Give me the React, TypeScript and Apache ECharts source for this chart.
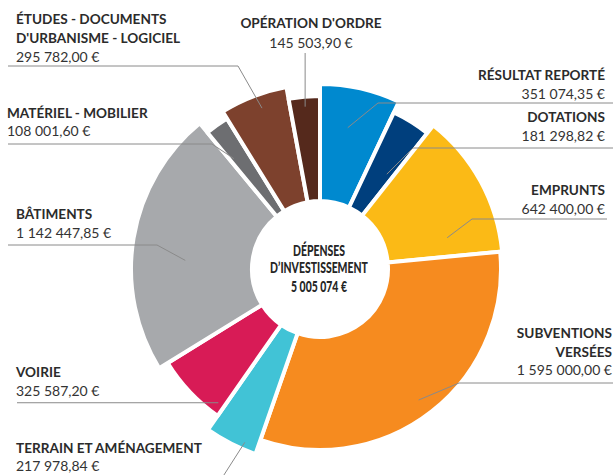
import React, { useEffect, useRef } from "react";
import * as echarts from "echarts";

// ---- Data ----
const categories = [
  "RÉSULTAT REPORTÉ",
  "DOTATIONS",
  "EMPRUNTS",
  "SUBVENTIONS VERSÉES",
  "TERRAIN ET AMÉNAGEMENT",
  "VOIRIE",
  "BÂTIMENTS",
  "MATÉRIEL - MOBILIER",
  "ÉTUDES - DOCUMENTS D'URBANISME - LOGICIEL",
  "OPÉRATION D'ORDRE",
];
const values = [
  351074.35, 181298.82, 642400.0, 1595000.0, 217978.84, 325587.2, 1142447.85,
  108001.6, 295782.0, 145503.9,
];
const titleLines = [
  ["RÉSULTAT REPORTÉ"],
  ["DOTATIONS"],
  ["EMPRUNTS"],
  ["SUBVENTIONS", "VERSÉES"],
  ["TERRAIN ET AMÉNAGEMENT"],
  ["VOIRIE"],
  ["BÂTIMENTS"],
  ["MATÉRIEL - MOBILIER"],
  ["ÉTUDES - DOCUMENTS", "D'URBANISME - LOGICIEL"],
  ["OPÉRATION D'ORDRE"],
];
const centerTitle = ["DÉPENSES", "D’INVESTISSEMENT"];
const colors = [
  "#0089CF",
  "#003F7D",
  "#FBBA16",
  "#F68B1F",
  "#41C3D6",
  "#D81B56",
  "#A7A9AC",
  "#6D6E71",
  "#7D412D",
  "#55291C",
];

// ---- Layout (sizes / label placement) ----
const CX = 320;
const CY = 269;
const INNER = 68;
const BORDER = 4;
type Lay = {
  r: number;
  t: number;
  ar: number;
  mode: "elbow" | "horiz" | "vert" | "diag";
  elbowX?: number;
  lineY?: number;
  edgeX?: number;
  textX: number;
  align: "left" | "right" | "center";
  ys: number[];
};
const layout: Lay[] = [
  { r: 183, t: 0.44, ar: 144, mode: "elbow", elbowX: 378, lineY: 103, edgeX: 613, textX: 605, align: "right", ys: [75, 93] },
  { r: 171, t: 0.76, ar: 116, mode: "elbow", elbowX: 413, lineY: 148, edgeX: 613, textX: 605, align: "right", ys: [117, 135] },
  { r: 181, t: 0.82, ar: 131, mode: "elbow", elbowX: 472, lineY: 219, edgeX: 607, textX: 605, align: "right", ys: [190, 208] },
  { r: 179, t: 0.51, ar: 164, mode: "elbow", elbowX: 459, lineY: 383, edgeX: 613, textX: 612, align: "right", ys: [333, 352, 369] },
  { r: 194, t: 0.27, ar: 189, mode: "diag", elbowX: 222, lineY: 478, textX: 16, align: "left", ys: [447.5, 465.5] },
  { r: 177, t: 0.1, ar: 168, mode: "horiz", edgeX: 17, textX: 16, align: "left", ys: [372, 390] },
  { r: 187, t: 0.43, ar: 135, mode: "elbow", elbowX: 157, lineY: 245, edgeX: 8, textX: 16, align: "left", ys: [214, 232] },
  { r: 175, t: 0.2, ar: 140, mode: "elbow", elbowX: 212, lineY: 144, edgeX: 8, textX: 7, align: "left", ys: [113, 130.5] },
  { r: 183, t: 0.56, ar: 171, mode: "elbow", elbowX: 238, lineY: 66, edgeX: 8, textX: 16, align: "left", ys: [19, 37.5, 56] },
  { r: 171, t: 0.5, ar: 163, mode: "vert", lineY: 53, textX: 311, align: "center", ys: [23, 42] },
];

const FONT = "Lato, 'Open Sans', sans-serif";

function fmtInt(n: number): string {
  return String(n).replace(/\B(?=(\d{3})+(?!\d))/g, " ");
}
function fmtEuro(v: number): string {
  const [i, d] = v.toFixed(2).split(".");
  return fmtInt(Number(i)) + "," + d + " €";
}

export default function App() {
  const ref = useRef<HTMLDivElement>(null);
  useEffect(() => {
    if (!ref.current) return;
    const chart = echarts.init(ref.current, null, { renderer: "svg" });
    const total = values.reduce((a, b) => a + b, 0);

    const series = values.map((_, i) => ({
      type: "pie",
      center: [CX, CY],
      radius: [INNER, layout[i].r + BORDER / 2],
      startAngle: 90,
      clockwise: true,
      silent: true,
      animation: false,
      label: { show: false },
      labelLine: { show: false },
      emphasis: { disabled: true },
      z: 2,
      data: values.map((v, j) => ({
        name: categories[j],
        value: v,
        itemStyle:
          j === i
            ? { color: colors[j], borderColor: "#ffffff", borderWidth: BORDER }
            : { color: "rgba(0,0,0,0)", borderWidth: 0 },
      })),
    }));

    const graphics: any[] = [];
    let cum = 0;
    values.forEach((v, i) => {
      const a0 = (cum / total) * 2 * Math.PI;
      cum += v;
      const a1 = (cum / total) * 2 * Math.PI;
      const L = layout[i];
      const a = a0 + (a1 - a0) * L.t;
      const ax = CX + L.ar * Math.sin(a);
      const ay = CY - L.ar * Math.cos(a);
      let pts: number[][] = [];
      if (L.mode === "elbow") pts = [[ax, ay], [L.elbowX!, L.lineY!], [L.edgeX!, L.lineY!]];
      else if (L.mode === "horiz") pts = [[ax, ay], [L.edgeX!, ay]];
      else if (L.mode === "vert") pts = [[ax, ay], [ax, L.lineY!]];
      else pts = [[ax, ay], [L.elbowX!, L.lineY!]];
      graphics.push({
        type: "polyline",
        silent: true,
        z: 10,
        shape: { points: pts },
        style: { stroke: "#8a8a8a", lineWidth: 1, fill: null },
      });
      const lines = titleLines[i];
      lines.forEach((txt, k) => {
        graphics.push({
          type: "text",
          x: L.textX,
          y: L.ys[k],
          silent: true,
          z: 11,
          style: {
            text: txt,
            font: `bold 13.6px ${FONT}`,
            fill: "#2b2b2b",
            textAlign: L.align,
            textVerticalAlign: "middle",
            align: L.align,
            verticalAlign: "middle",
          },
        });
      });
      graphics.push({
        type: "text",
        x: L.textX,
        y: L.ys[lines.length],
        silent: true,
        z: 11,
        style: {
          text: fmtEuro(v),
          font: `14px ${FONT}`,
          fill: "#333333",
          textAlign: L.align,
          textVerticalAlign: "middle",
          align: L.align,
          verticalAlign: "middle",
        },
      });
    });

    const centerLines = [...centerTitle, fmtInt(Math.floor(total)) + " €"];
    const centerYs = [250.5, 267.5, 287];
    centerLines.forEach((txt, k) => {
      graphics.push({
        type: "text",
        x: 319,
        y: centerYs[k],
        scaleX: 0.72,
        silent: true,
        z: 11,
        style: {
          text: txt,
          font: `900 14.5px ${FONT}`,
          fill: "#262626",
          textAlign: "center",
          textVerticalAlign: "middle",
          align: "center",
          verticalAlign: "middle",
        },
      });
    });

    chart.setOption({
      animation: false,
      backgroundColor: "#ffffff",
      series,
      graphic: { elements: graphics },
    });
    return () => chart.dispose();
  }, []);
  return (
    <div
      ref={ref}
      style={{ position: "absolute", left: 0, top: 0, width: 613, height: 475 }}
    />
  );
}
